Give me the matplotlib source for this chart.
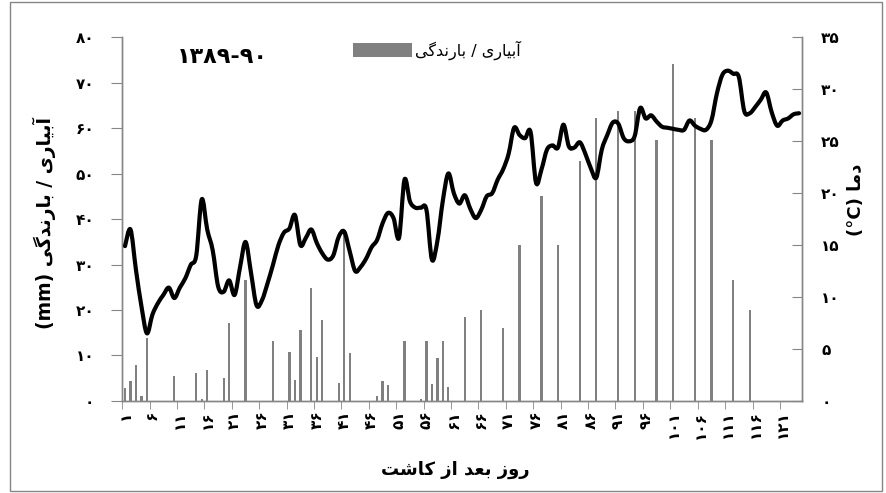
import matplotlib
matplotlib.use("Agg")
import matplotlib.pyplot as plt
from matplotlib.path import Path
from matplotlib.patches import PathPatch, Rectangle
import numpy as np

plt.rcParams['font.family'] = ['DejaVu Sans']

# irrigation / rainfall events: day after planting and depth (mm)
irr_days = [1, 2, 3, 4, 5, 10, 14, 15, 16, 19, 20, 23, 28, 31, 32, 33,
            35, 36, 37, 40, 41, 42, 47, 48, 49, 52, 55, 56, 57, 58, 59, 60,
            63, 66, 70, 73, 77, 80, 84, 87, 91, 94, 98, 101, 105, 108, 112, 115]
irr_mm = [2.8, 4.4, 7.8, 1.0, 13.8, 5.4, 6.1, 0.4, 6.8, 5.0, 17.1, 26.6,
          13.2, 10.7, 4.6, 15.5, 24.8, 9.6, 17.8, 4.0, 37.3, 10.6, 1.1, 4.3,
          3.5, 13.1, 0.4, 13.1, 3.8, 9.4, 13.1, 3.0, 18.5, 20.0, 16.0, 34.4,
          45.0, 34.4, 52.9, 62.3, 63.7, 63.7, 57.5, 74.2, 62.3, 57.5, 26.7, 20.0]

# daily mean air temperature (C), days 1..124
temp_c = [14.9, 16.5, 12.6, 9.1, 6.5, 8.3, 9.4, 10.2, 10.9, 9.9,
          10.9, 11.8, 13.1, 14.0, 19.4, 16.5, 14.5, 11.0, 10.5, 11.6,
          10.2, 12.9, 15.3, 12.3, 9.2, 9.7, 11.3, 13.1, 15.0, 16.2,
          16.6, 17.9, 15.0, 15.7, 16.5, 15.2, 14.2, 13.6, 14.0, 15.8,
          16.3, 14.4, 12.5, 12.9, 13.7, 14.8, 15.5, 17.1, 18.1, 17.6,
          15.7, 21.3, 19.2, 18.6, 18.6, 18.4, 13.6, 15.4, 19.3, 21.9,
          20.0, 19.0, 19.8, 18.5, 17.6, 18.4, 19.7, 20.0, 21.3, 22.3,
          23.8, 26.3, 25.6, 25.3, 25.9, 21.0, 22.3, 24.2, 24.6, 24.4,
          26.6, 24.5, 24.4, 24.9, 23.8, 22.4, 21.5, 24.2, 25.6, 26.8,
          26.7, 25.3, 25.0, 25.5, 28.2, 27.2, 27.5, 26.9, 26.4, 26.3,
          26.2, 26.1, 26.1, 27.0, 26.5, 26.2, 26.1, 27.0, 29.6, 31.4,
          31.8, 31.5, 31.2, 27.9, 27.7, 28.3, 29.0, 29.7, 27.8, 26.5,
          27.0, 27.2, 27.6, 27.7]
days = np.arange(1, len(temp_c) + 1)

x_label_days = list(range(1, 122, 5))
left_ticks = list(range(0, 81, 10))
right_ticks = list(range(0, 36, 5))

FA_DIGITS = str.maketrans('0123456789', '\u06f0\u06f1\u06f2\u06f3\u06f4\u06f5\u06f6\u06f7\u06f8\u06f9')


def fa(v):
    return str(v).translate(FA_DIGITS)


# Persian strings, already shaped (presentation forms) and in visual order
W_ABYARI = '\ufbfc\ufead\ufe8e\ufbff\ufe91\ufe81'          # آبیاری
W_BARANDEGI = '\ufbfd\ufb94\ufeaa\ufee7\ufead\ufe8e\ufe91'  # بارندگی
LBL_IRR = W_BARANDEGI + ' / ' + W_ABYARI
LBL_DAYS = ('\ufe96\ufeb7\ufe8e\ufb90' + ' ' + '\ufeaf\ufe8d' + ' '
            + '\ufeaa\ufecc\ufe91' + ' ' + '\ufeaf\ufeed\ufead')  # روز بعد از کاشت
LBL_TEMP = '(\u00b0C) ' + '\ufe8e\ufee3\ufea9'                    # دما (°C)
SEASON = fa('1389') + '-' + fa('90')

GREY = '#868686'
BAR = '#808080'


def smooth_path(x, y):
    """Catmull-Rom curve through the daily points, as cubic Bezier segments."""
    pts = np.column_stack([x, y]).astype(float)
    ext = np.vstack([pts[0], pts, pts[-1]])
    verts = [pts[0]]
    codes = [Path.MOVETO]
    for i in range(len(pts) - 1):
        p0, p1, p2, p3 = ext[i], ext[i + 1], ext[i + 2], ext[i + 3]
        verts += [p1 + (p2 - p0) / 6.0, p2 - (p3 - p1) / 6.0, p2]
        codes += [Path.CURVE4] * 3
    return Path(verts, codes)


fig = plt.figure(figsize=(8.86, 4.93), dpi=100)
ax = fig.add_axes([0.138, 0.187, 0.767, 0.737])
ax2 = ax.twinx()

# irrigation / rainfall bars
ax.bar(irr_days, irr_mm, width=0.42, color=BAR, label=LBL_IRR, zorder=2)
ax.set_xlim(0.5, 124.5)
ax.set_ylim(0, 80)

# temperature line on the secondary axis
ax2.add_patch(PathPatch(smooth_path(days, temp_c), fill=False, ec='black',
                        lw=3.0, capstyle='round', joinstyle='round',
                        zorder=3))
ax2.set_ylim(0, 35)

for a in (ax, ax2):
    a.spines['top'].set_visible(False)
    for s in ('left', 'right', 'bottom'):
        a.spines[s].set_color(GREY)
        a.spines[s].set_linewidth(1.0)

# x axis: labels centred on days, tick marks between day groups
ax.set_xticks(x_label_days)
ax.set_xticklabels([fa(d) for d in x_label_days], rotation=90,
                   fontsize=11, fontweight='bold')
ax.tick_params(axis='x', which='major', length=0, pad=7)
ax.set_xticks(np.arange(0.5, 121, 5), minor=True)
ax.tick_params(axis='x', which='minor', length=6, color=GREY, direction='out')

ax.set_yticks(left_ticks)
ax.set_yticklabels([fa(v) for v in left_ticks], fontsize=11, fontweight='bold')
ax.tick_params(axis='y', length=8, color=GREY, direction='out', pad=12)

ax2.set_yticks(right_ticks)
ax2.set_yticklabels([fa(v) for v in right_ticks], fontsize=11, fontweight='bold')
ax2.tick_params(axis='y', length=7, color=GREY, direction='in', pad=14)

ax.set_ylabel('(mm) ' + LBL_IRR, fontsize=13.5, fontweight='bold')
ax.yaxis.set_label_coords(-0.098, 0.49)
ax.set_xlabel(LBL_DAYS, fontsize=13, fontweight='bold')
ax.xaxis.set_label_coords(0.49, -0.165)
ax2.set_ylabel(LBL_TEMP, fontsize=13, fontweight='bold', rotation=90)
ax2.yaxis.set_label_coords(1.066, 0.553)

ax.text(0.148, 0.946, SEASON, transform=ax.transAxes, ha='center',
        va='center', fontsize=16, fontweight='bold')

ax.legend(loc='center', bbox_to_anchor=(0.463, 0.965), frameon=False,
          fontsize=11.5, handlelength=3.7, handleheight=0.9, handletextpad=0.2)

fig.patches.append(Rectangle((0.011, 0.004), 0.985, 0.992,
                             transform=fig.transFigure, fill=False,
                             ec=GREY, lw=1.0))

fig.savefig('out.png', dpi=100)
